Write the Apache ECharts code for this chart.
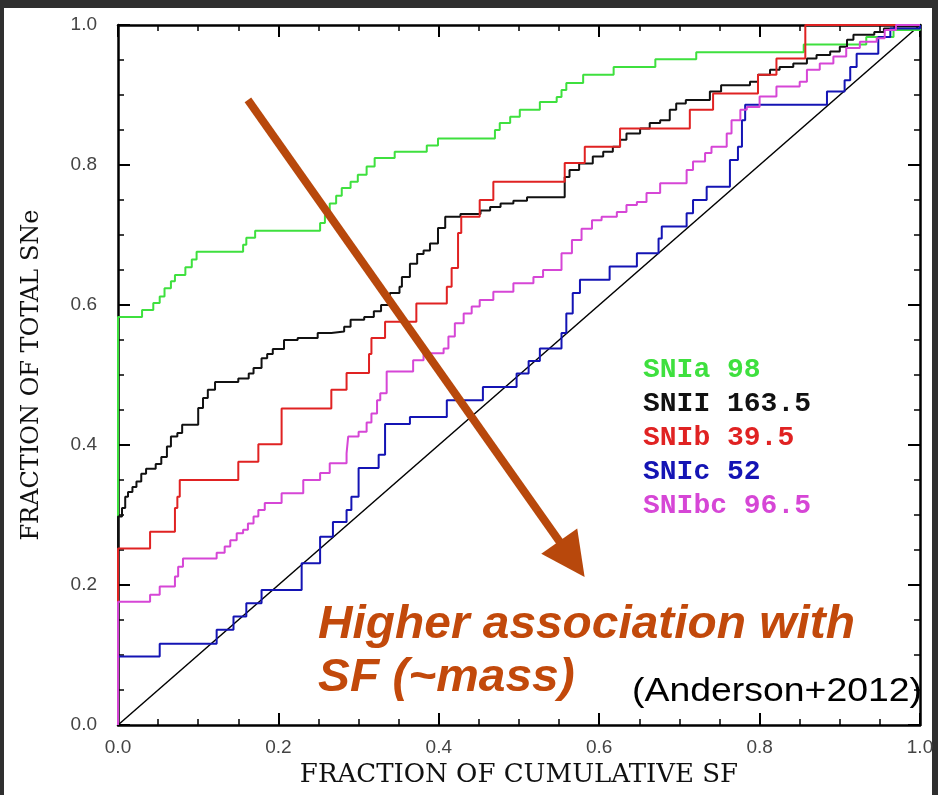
<!DOCTYPE html>
<html>
<head>
<meta charset="utf-8">
<script src="https://cdn.jsdelivr.net/npm/echarts@6/dist/echarts.min.js"></script>
<style>
  html, body { margin: 0; padding: 0; background: #2f2f2f; }
  #chart { width: 938px; height: 795px; }
</style>
</head>
<body>
<div id="chart"></div>
<script>
var chartDom = document.getElementById('chart');
var myChart = echarts.init(chartDom);
var option;

// tick labels
var tickValues = [0, 0.2, 0.4, 0.6, 0.8, 1.0];

// legend entries: name, colour
var seriesNames = ['SNIa 98', 'SNII 163.5', 'SNIb 39.5', 'SNIc 52', 'SNIbc 96.5'];
var seriesColors = ['#3ee03e', '#111111', '#e02222', '#1414b4', '#d646d6'];

// cumulative steps [fraction of SF, fraction of SNe]
var snIa = [[0,0],[0,0.583],[0.030,0.593],[0.044,0.603],[0.052,0.612],[0.058,0.624],[0.066,0.634],[0.071,0.643],
  [0.084,0.654],[0.092,0.665],[0.098,0.676],[0.156,0.686],[0.160,0.696],[0.171,0.706],[0.252,0.717],[0.258,0.728],
  [0.264,0.745],[0.272,0.756],[0.279,0.767],[0.290,0.776],[0.299,0.786],[0.310,0.798],[0.320,0.810],[0.345,0.819],
  [0.385,0.828],[0.399,0.838],[0.470,0.850],[0.476,0.860],[0.489,0.869],[0.501,0.879],[0.526,0.890],[0.547,0.897],
  [0.553,0.907],[0.559,0.917],[0.580,0.929],[0.618,0.940],[0.670,0.951],[0.721,0.961],[0.855,0.972],[0.933,0.983],
  [0.967,0.993],[1.0,1.0]];

var snII = [[0,0],[0,0.298],[0.005,0.310],[0.009,0.326],[0.0125,0.333],[0.018,0.340],[0.023,0.348],[0.029,0.359],
  [0.035,0.366],[0.047,0.373],[0.054,0.383],[0.061,0.398],[0.066,0.412],[0.074,0.417],[0.080,0.429],[0.100,0.453],
  [0.106,0.467],[0.112,0.479],[0.121,0.490],[0.150,0.495],[0.163,0.502],[0.169,0.510],[0.179,0.524],[0.186,0.530],
  [0.193,0.537],[0.207,0.550],[0.224,0.553],[0.249,0.560],[0.266,0.562],[0.282,0.569],[0.290,0.579],[0.307,0.583],
  [0.319,0.591],[0.328,0.600],[0.339,0.617],[0.351,0.626],[0.354,0.640],[0.364,0.659],[0.373,0.673],[0.381,0.678],
  [0.389,0.688],[0.399,0.710],[0.408,0.726],[0.427,0.730],[0.452,0.735],[0.464,0.740],[0.477,0.745],[0.493,0.749],
  [0.510,0.754],[0.557,0.760],[0.557,0.783],[0.563,0.793],[0.575,0.802],[0.592,0.812],[0.605,0.819],[0.617,0.826],
  [0.626,0.836],[0.634,0.845],[0.651,0.852],[0.663,0.860],[0.676,0.864],[0.688,0.879],[0.696,0.888],[0.708,0.893],
  [0.738,0.905],[0.752,0.914],[0.788,0.919],[0.798,0.929],[0.813,0.936],[0.825,0.940],[0.842,0.945],[0.859,0.952],
  [0.871,0.957],[0.888,0.962],[0.900,0.969],[0.909,0.979],[0.917,0.986],[0.943,0.990],[0.955,0.995],[0.968,0.998],
  [1.0,1.0]];

var snIb = [[0,0],[0,0.252],[0.040,0.276],[0.071,0.310],[0.074,0.326],[0.077,0.350],[0.150,0.376],[0.175,0.401],
  [0.204,0.452],[0.266,0.479],[0.285,0.503],[0.313,0.530],[0.316,0.553],[0.333,0.576],[0.372,0.602],[0.410,0.626],
  [0.416,0.653],[0.424,0.703],[0.428,0.726],[0.451,0.750],[0.468,0.776],[0.557,0.803],[0.582,0.826],[0.626,0.852],
  [0.713,0.879],[0.742,0.902],[0.798,0.929],[0.821,0.952],[0.857,1.0],[1.0,1.0]];

var snIc = [[0,0],[0,0.098],[0.052,0.116],[0.123,0.136],[0.144,0.155],[0.160,0.174],[0.179,0.193],[0.229,0.231],
  [0.252,0.269],[0.268,0.290],[0.285,0.307],[0.291,0.326],[0.300,0.367],[0.325,0.386],[0.333,0.430],[0.364,0.440],
  [0.410,0.464],[0.455,0.483],[0.497,0.502],[0.512,0.520],[0.526,0.538],[0.553,0.560],[0.559,0.588],[0.567,0.617],
  [0.576,0.636],[0.613,0.655],[0.647,0.674],[0.674,0.695],[0.678,0.712],[0.709,0.731],[0.717,0.750],[0.734,0.769],
  [0.763,0.807],[0.773,0.826],[0.778,0.864],[0.782,0.886],[0.884,0.905],[0.906,0.921],[0.913,0.940],[0.921,0.959],
  [0.948,0.983],[0.963,0.995],[1.0,1.0]];

var snIbc = [[0,0],[0,0.176],[0.040,0.186],[0.052,0.198],[0.071,0.212],[0.075,0.226],[0.081,0.238],[0.123,0.246],
  [0.133,0.255],[0.140,0.264],[0.148,0.274],[0.156,0.279],[0.162,0.288],[0.169,0.298],[0.175,0.307],[0.183,0.317],
  [0.204,0.331],[0.231,0.350],[0.252,0.360],[0.264,0.374],[0.285,0.388],[0.287,0.412],[0.300,0.419],[0.310,0.432],
  [0.316,0.445],[0.323,0.464],[0.327,0.474],[0.335,0.505],[0.368,0.521],[0.381,0.531],[0.406,0.538],[0.412,0.555],
  [0.420,0.574],[0.431,0.588],[0.441,0.598],[0.451,0.607],[0.468,0.619],[0.493,0.631],[0.518,0.640],[0.530,0.650],
  [0.553,0.674],[0.566,0.693],[0.578,0.709],[0.591,0.721],[0.603,0.726],[0.622,0.733],[0.634,0.743],[0.647,0.747],
  [0.659,0.760],[0.676,0.774],[0.709,0.793],[0.717,0.805],[0.732,0.817],[0.740,0.826],[0.759,0.845],[0.765,0.864],
  [0.776,0.879],[0.784,0.883],[0.800,0.898],[0.821,0.912],[0.850,0.919],[0.859,0.936],[0.875,0.945],[0.892,0.955],
  [0.908,0.967],[0.925,0.976],[0.946,0.981],[0.956,0.993],[0.970,1.0],[1.0,1.0]];

var equality = [[0,0],[1,1]];

// arrow annotation, in data units (start, arrow-head centre)
var arrowFrom = [0.162, 0.893];
var arrowTo = [0.566, 0.237];

var curves = [snIa, snII, snIb, snIc, snIbc];

var axisFont = "'Liberation Sans', Arial, sans-serif";
var titleFont = "'DejaVu Serif', 'Liberation Serif', serif";

function frameAxis(pos, isX, showLabel) {
  return {
    type: 'value',
    position: pos,
    min: 0,
    max: 1,
    interval: 0.2,
    splitLine: { show: false },
    axisLine: { show: true, onZero: false, lineStyle: { color: '#000', width: 2.5 } },
    axisTick: { show: true, inside: true, length: 12, lineStyle: { color: '#000', width: 2 } },
    minorTick: { show: true, splitNumber: 4, length: 6, lineStyle: { color: '#000', width: 1.5 } },
    axisLabel: {
      show: showLabel,
      color: '#444',
      fontFamily: axisFont,
      fontSize: 19,
      margin: isX ? 13 : 21,
      formatter: function (v) { return tickValues.indexOf(+v.toFixed(1)) >= 0 ? v.toFixed(1) : ''; }
    }
  };
}

var xMain = frameAxis('bottom', true, true);
xMain.name = 'FRACTION OF CUMULATIVE SF';
xMain.nameLocation = 'middle';
xMain.nameGap = 37;
xMain.nameTextStyle = { color: '#111', fontFamily: titleFont, fontSize: 26 };

var yMain = frameAxis('left', false, true);
yMain.name = 'FRACTION OF TOTAL SNe';
yMain.nameLocation = 'middle';
yMain.nameGap = 74;
yMain.nameTextStyle = { color: '#111', fontFamily: titleFont, fontSize: 24 };

var series = curves.map(function (d, i) {
  return {
    name: seriesNames[i],
    type: 'line',
    step: 'end',
    data: d,
    showSymbol: false,
    silent: true,
    color: seriesColors[i],
    lineStyle: { width: 2, color: seriesColors[i] },
    z: 3 + i
  };
});

series.unshift({
  name: 'equality',
  type: 'line',
  data: equality,
  showSymbol: false,
  silent: true,
  lineStyle: { width: 1.5, color: '#000' },
  z: 2
});

series.push({
  name: 'arrow',
  type: 'lines',
  coordinateSystem: 'cartesian2d',
  silent: true,
  symbol: ['none', 'triangle'],
  symbolSize: [40, 44],
  lineStyle: { color: '#b8480c', width: 8, opacity: 1, curveness: 0 },
  data: [{ coords: [arrowFrom, arrowTo] }],
  z: 20
});

option = {
  backgroundColor: '#2f2f2f',
  animation: false,
  grid: { left: 118, right: 18, top: 25, bottom: 70, containLabel: false },
  xAxis: [xMain, frameAxis('top', true, false)],
  yAxis: [yMain, frameAxis('right', false, false)],
  legend: {
    orient: 'vertical',
    left: 633,
    top: 351,
    icon: 'none',
    itemWidth: 0,
    itemHeight: 12,
    itemGap: 6,
    selectedMode: false,
    textStyle: { fontFamily: "'Liberation Mono', 'Courier New', monospace", fontWeight: 'bold', fontSize: 28 },
    data: seriesNames.map(function (n, i) {
      return { name: n, textStyle: { color: seriesColors[i] } };
    })
  },
  graphic: [
    {
      type: 'rect',
      z: -10,
      silent: true,
      shape: { x: 4, y: 8, width: 928, height: 790 },
      style: { fill: '#ffffff' }
    },
    {
      type: 'text',
      x: 318,
      y: 599,
      scaleX: 1.04,
      z: 30,
      silent: true,
      style: {
        text: 'Higher association with\nSF (~mass)',
        fill: '#c2490b',
        font: "italic bold 46px 'Liberation Sans', Arial, sans-serif",
        lineHeight: 53,
        verticalAlign: 'top'
      }
    },
    {
      type: 'text',
      x: 632,
      y: 675,
      scaleX: 1.1,
      z: 30,
      silent: true,
      style: {
        text: '(Anderson+2012)',
        fill: '#000',
        font: "34px 'Liberation Sans', Arial, sans-serif",
        verticalAlign: 'top'
      }
    }
  ],
  series: series
};

option && myChart.setOption(option);
</script>
</body>
</html>
